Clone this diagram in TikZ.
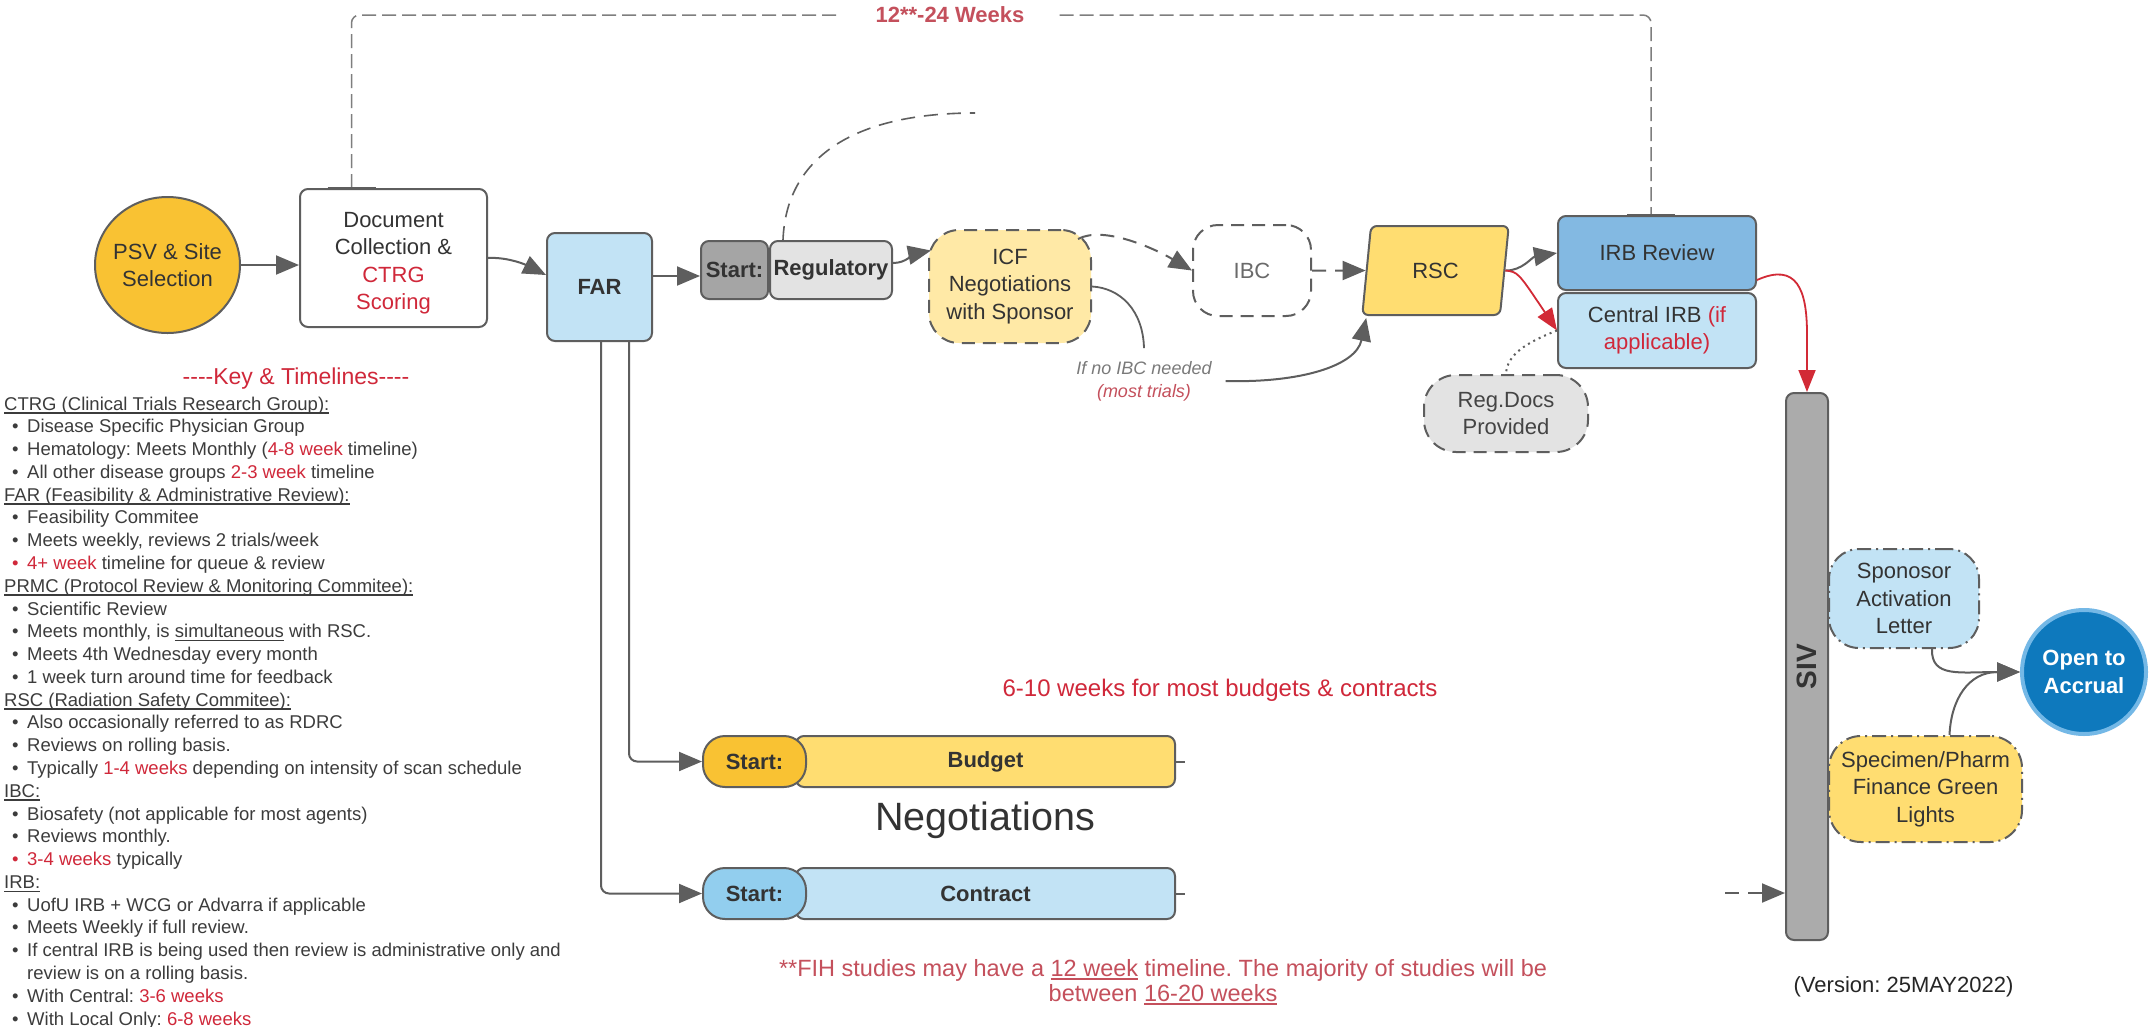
\documentclass[tikz,border=0pt]{standalone}
\usepackage{fontspec}
\setmainfont{Liberation Sans}
\usetikzlibrary{arrows.meta,shapes.geometric,calc}

\definecolor{lineg}{HTML}{5E5E5E}
\definecolor{txt}{HTML}{333333}
\definecolor{keytxt}{HTML}{3C3C3C}
\definecolor{redA}{HTML}{D0283A}
\definecolor{redB}{HTML}{C4505C}
\definecolor{redArrow}{HTML}{D22A36}
\definecolor{gold}{HTML}{F9C233}
\definecolor{yel}{HTML}{FFDD71}
\definecolor{paleyel}{HTML}{FFE9A6}
\definecolor{paleblue}{HTML}{C2E3F5}
\definecolor{midblue}{HTML}{83B9E2}
\definecolor{startblue}{HTML}{92CEEE}
\definecolor{darkgrey}{HTML}{A5A5A5}
\definecolor{lightgrey}{HTML}{E3E3E3}
\definecolor{sivgrey}{HTML}{ABABAB}
\definecolor{accrual}{HTML}{0E79BD}
\definecolor{accrualring}{HTML}{74B8E6}
\definecolor{ibcgrey}{HTML}{6A6A6A}
\definecolor{regtxt}{HTML}{444444}
\definecolor{notegrey}{HTML}{7A7A7A}

\newcommand\nodefont{\fontsize{22}{27.5}\selectfont}
\newcommand\keyfont{\fontsize{18.5}{22.8}\selectfont}
\newcommand\undl[1]{\setbox0=\hbox{#1}\rlap{\rule[-3.5pt]{\wd0}{1.3pt}}\box0\relax}
\newcommand\kb[1]{\hspace*{8pt}\makebox[15pt][l]{\textbullet}#1}
\newcommand\kbr[1]{\hspace*{8pt}\makebox[15pt][l]{\textcolor{redA}{\textbullet}}#1}
\newcommand\kr[1]{\textcolor{redA}{#1}}
\newcommand\hy{\hbox{-}}
\frenchspacing

\begin{document}
\begin{tikzpicture}[x=1pt,y=-1pt,
  every node/.style={inner sep=0pt},
  box/.style={draw=lineg, line width=2pt, rounded corners=8pt, align=center, text=txt, font=\nodefont},
  dashedbox/.style={box, dash pattern=on 13pt off 8pt},
  dotdashbox/.style={box, dash pattern=on 14pt off 5pt on 2pt off 5pt},
  arr/.style={draw=lineg, line width=2pt, -{Triangle[length=23pt,width=19pt]}},
  darr/.style={arr, dash pattern=on 14pt off 9pt},
  rarr/.style={draw=redArrow, line width=1.8pt, -{Triangle[length=22pt,width=17pt]}},
  keyline/.style={anchor=base west, font=\keyfont, text=keytxt},
]
\fill[white] (0,0) rectangle (2156,1026);
\useasboundingbox (0,0) rectangle (2156,1026);

% ---- main flow ----
\node[box, ellipse, fill=gold, minimum width=145pt, minimum height=136pt] (psv) at (167.5,265) {};
\node[align=center, text=txt, font=\nodefont] (psvtxt) at (psv.center) {PSV \& Site\\Selection};
\node[box, fill=white, minimum width=187pt, minimum height=138pt] (doc) at (393.5,258) {};
\node[align=center, text=txt, font=\nodefont] (doctxt) at ($(doc.center)+(0,5)$)
  {Document\\Collection \&\\\textcolor{redA}{CTRG}\\\textcolor{redA}{Scoring}};
\node[box, fill=paleblue, minimum width=105pt, minimum height=108pt, font=\nodefont\bfseries] (far) at (599.5,287) {FAR};
\node[box, fill=darkgrey, minimum width=67pt, minimum height=58pt, font=\nodefont\bfseries] (sreg) at (734.5,270) {Start:};
\node[box, fill=lightgrey, minimum width=122pt, minimum height=58pt, font=\nodefont\bfseries] (reg) at (831,270) {Regulatory};
\node[dashedbox, fill=paleyel, rounded corners=30pt, minimum width=162pt, minimum height=113pt] (icf) at (1010,286.5)
  {ICF\\Negotiations\\with Sponsor};
\node[dashedbox, fill=white, rounded corners=25pt, minimum width=118pt, minimum height=91pt, text=ibcgrey] (ibc) at (1252,270.5) {IBC};
\node[box, trapezium, trapezium left angle=78.6, trapezium right angle=101.4, trapezium stretches=true,
  fill=yel, rounded corners=6pt, minimum width=147pt, minimum height=89pt] (rsc) at (1435.5,270.5) {RSC};
\node[box, fill=midblue, minimum width=198pt, minimum height=74pt] (irb) at (1657,253) {IRB Review};
\node[box, fill=paleblue, minimum width=198pt, minimum height=75pt] (cirb) at (1657,330.5)
  {Central IRB \textcolor{redA}{(if}\\\textcolor{redA}{applicable)}};
\node[dashedbox, fill=lightgrey, rounded corners=32pt, minimum width=164pt, minimum height=77pt, text=regtxt] (regdocs) at (1506,413.5)
  {Reg.Docs\\Provided};
\node[box, fill=sivgrey, minimum width=42pt, minimum height=547pt] (siv) at (1807,666.5) {};
\node[rotate=90, font=\fontsize{28}{30}\selectfont\bfseries, text=txt] (sivtxt) at (siv.center) {SIV};
\node[dotdashbox, fill=paleblue, rounded corners=30pt, minimum width=150pt, minimum height=99pt] (sponsor) at (1904,598.5)
  {Sponosor\\Activation\\Letter};
\node[dotdashbox, fill=yel, rounded corners=32pt, minimum width=193pt, minimum height=106pt] (specimen) at (1925.5,789)
  {Specimen/Pharm\\Finance Green\\Lights};
\node[circle, draw=accrualring, line width=4pt, fill=accrual, minimum size=124pt, align=center, text=white,
  font=\nodefont\bfseries] (open) at (2084,672) {Open to\\Accrual};

% ---- negotiations ----
\node[box, fill=yel, minimum width=379pt, minimum height=51pt, font=\nodefont\bfseries] (bbar) at (985.5,761.5) {Budget};
\node[box, fill=gold, rounded corners=22pt, minimum width=103pt, minimum height=51pt, font=\nodefont\bfseries] (bstart) at (754.5,761.5) {Start:};
\node[box, fill=paleblue, minimum width=379pt, minimum height=51pt, font=\nodefont\bfseries] (cbar) at (985.5,893.5) {Contract};
\node[box, fill=startblue, rounded corners=22pt, minimum width=103pt, minimum height=51pt, font=\nodefont\bfseries] (cstart) at (754.5,893.5) {Start:};

% ---- free labels ----
\node[font=\fontsize{39.5}{44}\selectfont, text=txt] (neg) at (985,820) {Negotiations};
\node[font=\fontsize{24}{28}\selectfont, text=redA] (weeks) at (1220,690) {6-10 weeks for most budgets \& contracts};
\node[align=center, font=\fontsize{23.5}{25}\selectfont, text=redB] (fih) at (1163,982)
  {**FIH studies may have a \undl{12 week} timeline. The majority of studies will be\\between \undl{16-20 weeks}};
\node[font=\nodefont, text=black!85] (version) at (1903.5,987) {(Version: 25MAY2022)};
\node[align=center, font=\fontsize{18}{23}\selectfont\itshape, text=notegrey, outer xsep=14pt, outer ysep=13pt] (nolbl) at (1144,381)
  {If no IBC needed\\\textcolor{redB}{(most trials)}};
\node[font=\fontsize{22}{24}\selectfont\bfseries, text=redB, inner xsep=35pt] (toplbl) at (950,15) {12**-24 Weeks};

% ---- key ----
\node[font=\fontsize{23}{26}\selectfont, text=redA] (keytitle) at (296,379) {\hy\hy\hy\hy Key \& Timelines\hy\hy\hy\hy};
\foreach \ki [count=\i] in {
  {\undl{CTRG (Clinical Trials Research Group):}},
  {\kb{Disease Specific Physician Group}},
  {\kb{Hematology: Meets Monthly (\kr{4-8 week} timeline)}},
  {\kb{All other disease groups \kr{2-3 week} timeline}},
  {\undl{FAR (Feasibility \& Administrative Review):}},
  {\kb{Feasibility Commitee}},
  {\kb{Meets weekly, reviews 2 trials/week}},
  {\kbr{\kr{4+ week} timeline for queue \& review}},
  {\undl{PRMC (Protocol Review \& Monitoring Commitee):}},
  {\kb{Scientific Review}},
  {\kb{Meets monthly, is \undl{simultaneous} with RSC.}},
  {\kb{Meets 4th Wednesday every month}},
  {\kb{1 week turn around time for feedback}},
  {\undl{RSC (Radiation Safety Commitee):}},
  {\kb{Also occasionally referred to as RDRC}},
  {\kb{Reviews on rolling basis.}},
  {\kb{Typically \kr{1-4 weeks} depending on intensity of scan schedule}},
  {\undl{IBC:}},
  {\kb{Biosafety (not applicable for most agents)}},
  {\kb{Reviews monthly.}},
  {\kbr{\kr{3-4 weeks} typically}},
  {\undl{IRB:}},
  {\kb{UofU IRB + WCG or Advarra if applicable}},
  {\kb{Meets Weekly if full review.}},
  {\kb{If central IRB is being used then review is administrative only and}},
  {\hspace*{23pt}review is on a rolling basis.},
  {\kb{With Central: \kr{3-6 weeks}}},
  {\kb{With Local Only: \kr{6-8 weeks}}}
}{
  \node[keyline] (k\i) at (4,{410+22.78*(\i-1)}) {\ki};
}

% ---- connectors ----
\draw[arr] (psv.east) -- (psv.east -| doc.west);
\draw[arr] (doc.east) .. controls (505,257) and (522,263) .. ($(far.west)+(0,-12)$);
\draw[arr] ($(far.east)+(0,-11)$) -- ($(sreg.west)+(0,6)$);
\draw[arr] ($(reg.east)+(0,-7)$) .. controls (906,263) and (914,254) .. ($(icf.west)+(3,-36)$);
\coordinate (regup) at (975,113);
\draw[draw=lineg, line width=1.6pt, dash pattern=on 14pt off 9pt] ($(reg.north west)+(14,0)$) .. controls (786,160) and (850,113) .. (regup);
\draw[darr] ($(icf.north east)+(-14,10)$) .. controls (1102,226) and (1150,246) .. (ibc.west);
\draw[darr] (ibc.east) -- (rsc.west);
\draw[arr] (rsc.east) .. controls (1522,271) and (1532,257) .. (irb.west);
\draw[rarr] (rsc.east) .. controls (1518,272) .. (cirb.west);
\draw[draw=lineg, line width=2pt, dash pattern=on 2pt off 4pt] (cirb.west) .. controls (1525,343) and (1507,355) .. (regdocs.north);
\draw[rarr] ($(irb.east)+(0,27)$) .. controls (1797,262) and (1807,290) .. ($(siv.north)+(0,-58)$) -- (siv.north);
\draw[draw=lineg, line width=1.8pt] (icf.east) .. controls (1120,288) and (1143,310) .. (nolbl.north);
\draw[arr] (nolbl.east) .. controls (1300,383) and (1356,366) .. ($(rsc.bottom left corner)+(5,2)$);
\draw[arr, rounded corners=8pt] ($(far.south)+(29.5,0)$) |- (bstart.west);
\draw[arr, rounded corners=8pt] ($(far.south)+(1.5,0)$) |- (cstart.west);
\draw[draw=lineg, line width=2pt] (bbar.east) -- ++(9,0);
\draw[draw=lineg, line width=2pt] (cbar.east) -- ++(9,0);
\coordinate (sivin) at (1725,893);
\draw[darr] (sivin) -- (sivin -| siv.west);
\draw[arr] ($(sponsor.south)+(28,0)$) .. controls (1931,678) and (1960,672) .. (open.west);
\draw[arr] ($(specimen.north)+(24,0)$) .. controls (1951,700) and (1968,672) .. (open.west);

% ---- overall timeline bracket ----
\coordinate (tl) at ($(doc.north)+(-42,0)$);
\coordinate (tr) at ($(irb.north)+(-6,0)$);
\draw[draw=lineg!80, line width=1.5pt, dash pattern=on 14pt off 6pt, rounded corners=8pt] (tl) |- (toplbl.west);
\draw[draw=lineg!80, line width=1.5pt, dash pattern=on 14pt off 6pt, rounded corners=8pt] (toplbl.east) -| (tr);
\draw[draw=lineg, line width=3pt] ($(tl)+(-24,0)$) -- ($(tl)+(24,0)$);
\draw[draw=lineg, line width=3pt] ($(tr)+(-24,0)$) -- ($(tr)+(24,0)$);
\end{tikzpicture}
\end{document}
